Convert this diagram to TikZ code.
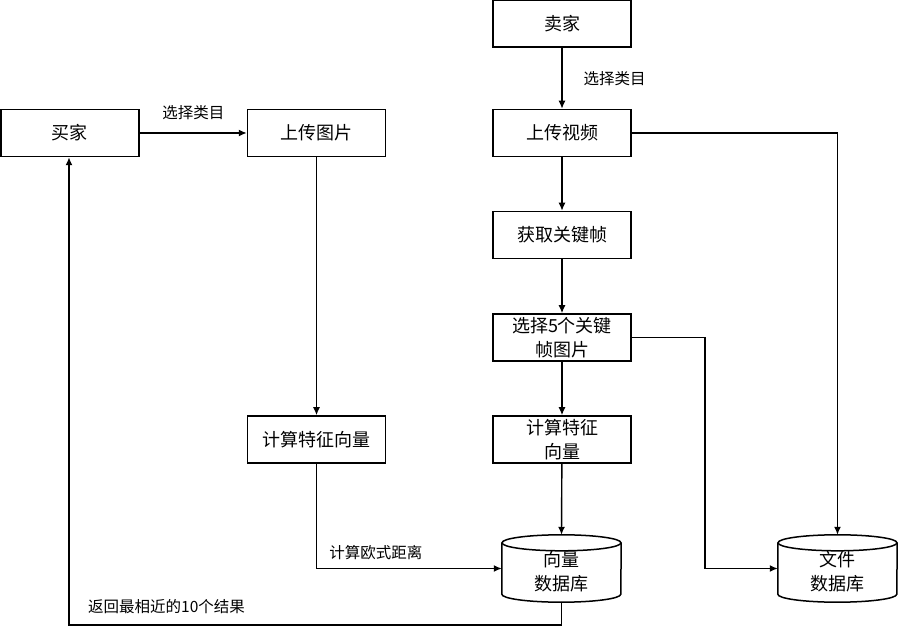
\documentclass[tikz,border=0pt]{standalone}
\usepackage{fontspec}
\setmainfont{Noto Sans CJK SC}
\usetikzlibrary{arrows.meta}
\tikzset{
  box/.style={draw, line width=1.5pt, minimum width=138pt, minimum height=47pt, inner sep=2pt, align=center, font=\fontsize{18}{24}\selectfont},
  cylnode/.style={minimum width=119pt, minimum height=67pt, inner sep=0pt, align=center, font=\fontsize{18}{24}\selectfont},
  cylline/.style={line width=1.5pt},
  conn/.style={line width=1.4pt, -{Latex[length=8pt,width=7pt]}},
  lbl/.style={font=\fontsize{15.5}{18}\selectfont, inner sep=1pt}
}
\begin{document}
\begin{tikzpicture}[x=1pt,y=-1pt]
\useasboundingbox (0,0) rectangle (898,628);
% boxes
\node[box] (seller) at (562,23.5) {卖家};
\node[box] (buyer) at (70,133) {买家};
\node[box] (upimg) at (316.5,133) {上传图片};
\node[box] (upvid) at (562,133) {上传视频};
\node[box] (key) at (562,235) {获取关键帧};
\node[box] (sel5) at (562,337.5) {选择5个关键\\帧图片};
\node[box] (featL) at (316.5,439.5) {计算特征向量};
\node[box] (featR) at (562,439.5) {计算特征\\向量};
% cylinders (text node sits 3pt below the drawn body)
\node[cylnode] (vdb) at (561.5,571.5) {向量\\数据库};
\node[cylnode] (fdb) at (837.5,571.5) {文件\\数据库};
\foreach \c in {vdb,fdb}{
  \draw[cylline] ([yshift=-5pt]\c.north west) -- ([yshift=11pt]\c.south west)
    arc[start angle=180,end angle=360,x radius=59.5pt,y radius=8pt]
    -- ([yshift=-5pt]\c.north east);
  \draw[cylline] ([yshift=-5pt]\c.north) ellipse[x radius=59.5pt,y radius=8pt];
}
% coordinates
\coordinate (c1) at (837.5,133);
\coordinate (c2) at (705,337.5);
\coordinate (c3) at (705,568.5);
\coordinate (c4) at (316.5,568.5);
\coordinate (c5) at (561.5,625);
\coordinate (c6) at (69,625);
% connectors
\draw[conn] (seller) -- node[lbl, right=20pt] {选择类目} (upvid);
\draw[conn] (buyer) -- node[lbl, above=12pt] {选择类目} (upimg);
\draw[conn] (upimg) -- (featL);
\draw[conn] (upvid) -- (key);
\draw[conn] (key) -- (sel5);
\draw[conn] (sel5) -- (featR);
\draw[conn] (featR) -- ([yshift=3pt]vdb.north);
\draw[conn] (upvid.east) -- (c1) -- ([yshift=3pt]fdb.north);
\draw[conn] (sel5.east) -- (c2) -- (c3) -- (fdb.west |- c3);
\draw[conn] (featL.south) -- (c4) -- node[lbl, pos=0.32, above=7pt] {计算欧式距离} (vdb.west |- c4);
\draw[conn] ([yshift=3pt]vdb.south) -- (c5) -- node[lbl, pos=0.802, above=10pt] {返回最相近的10个结果} (c6) -- ([xshift=-1pt]buyer.south);
\end{tikzpicture}
\end{document}
